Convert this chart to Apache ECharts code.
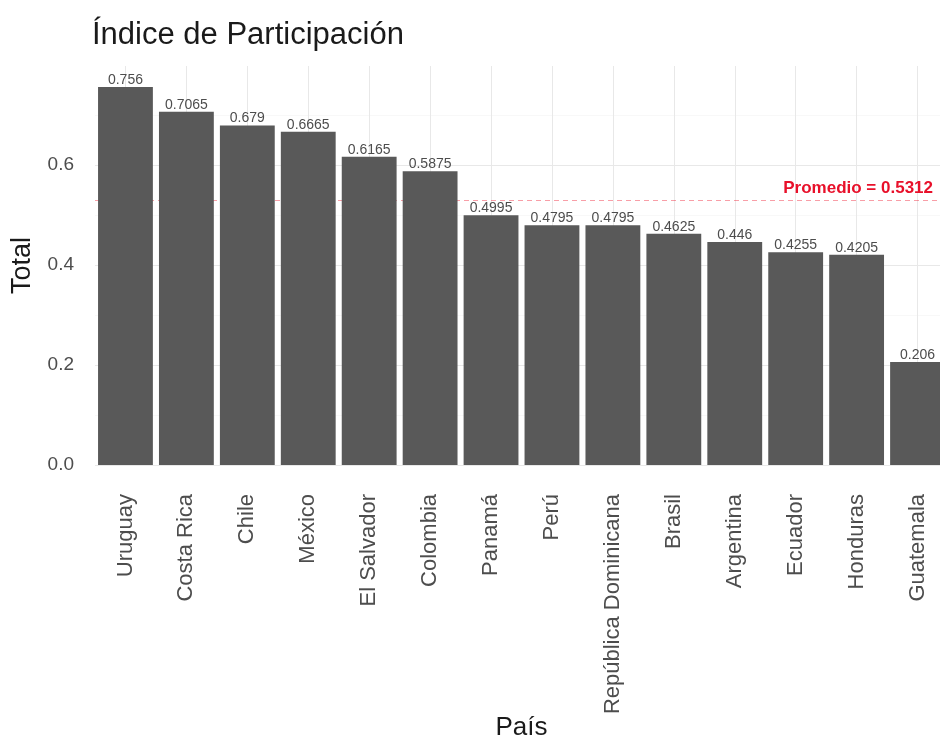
<!DOCTYPE html>
<html>
<head>
<meta charset="utf-8">
<script src="https://cdn.jsdelivr.net/npm/echarts@6/dist/echarts.min.js"></script>
<style>
  html, body { margin: 0; padding: 0; background: #fff; }
  #chart { width: 940px; height: 740px; }
</style>
</head>
<body>
<div id="chart"></div>
<script>
  // datos
  const paises = ['Uruguay', 'Costa Rica', 'Chile', 'México', 'El Salvador', 'Colombia', 'Panamá',
    'Perú', 'República Dominicana', 'Brasil', 'Argentina', 'Ecuador', 'Honduras', 'Guatemala']
  const totales = [0.756, 0.7065, 0.679, 0.6665, 0.6165, 0.5875, 0.4995,
    0.4795, 0.4795, 0.4625, 0.446, 0.4255, 0.4205, 0.206]
  const promedio = 0.5312
  const yTicks = [0, 0.2, 0.4, 0.6]

  const gris = '#4d4d4d'
  const fuente = 'Liberation Sans'

  let myChart = echarts.init(document.getElementById('chart'))
  myChart.setOption({
    animation: false,
    backgroundColor: '#fff',
    textStyle: { fontFamily: fuente },
    title: {
      text: 'Índice de Participación',
      left: 87,
      top: 15,
      textStyle: { fontFamily: fuente, fontSize: 31, fontWeight: 'normal', color: '#1a1a1a' }
    },
    grid: { left: 95, right: -8, top: 66, bottom: 275, outerBoundsMode: 'none', containLabel: false },
    xAxis: {
      type: 'category',
      data: paises,
      name: 'País',
      nameLocation: 'middle',
      nameGap: 250,
      nameMoveOverlap: false,
      nameTextStyle: { fontSize: 26, color: '#1a1a1a' },
      axisLine: { show: false },
      axisTick: { show: false },
      splitLine: { show: false },
      axisLabel: { rotate: 90, margin: 29, fontSize: 22, color: gris, interval: 0 }
    },
    yAxis: {
      type: 'value',
      min: yTicks[0],
      max: 0.798,
      interval: 0.2,
      name: 'Total',
      nameLocation: 'middle',
      nameGap: 59,
      nameMoveOverlap: false,
      nameTextStyle: { fontSize: 27, color: '#1a1a1a' },
      axisLine: { show: false },
      axisTick: { show: false },
      axisLabel: {
        margin: 21, fontSize: 19, color: gris, showMaxLabel: false,
        formatter: v => v.toFixed(1)
      },
      splitLine: { show: true, showMaxLine: false, lineStyle: { color: '#e8e8e8', width: 1 } },
      minorTick: { show: false, splitNumber: 2 },
      minorSplitLine: { show: true, lineStyle: { color: '#f3f3f3', width: 0.6 } }
    },
    series: [
      {
        // lineas verticales de la grilla
        type: 'line',
        data: [],
        z: 0,
        silent: true,
        markLine: {
          silent: true,
          z: 0,
          symbol: ['none', 'none'],
          label: { show: false },
          lineStyle: { color: '#e8e8e8', width: 1, type: 'solid' },
          data: paises.map(p => ({ xAxis: p }))
        }
      },
      {
        type: 'bar',
        data: totales,
        z: 10,
        barCategoryGap: '10%',
        itemStyle: { color: '#595959' },
        label: {
          show: true,
          position: 'top',
          distance: 0,
          fontSize: 14,
          color: '#4d4d4d',
          formatter: p => String(p.value)
        }
      },
      {
        // linea del promedio
        type: 'line',
        data: [],
        z: 12,
        silent: true,
        markLine: {
          silent: true,
          symbol: ['none', 'none'],
          lineStyle: { color: 'rgba(240, 40, 60, 0.45)', width: 1.2, type: [5, 4] },
          label: {
            show: true,
            position: 'insideEndTop',
            formatter: 'Promedio = ' + promedio,
            color: '#e8102a',
            fontSize: 17,
            fontWeight: 'bold',
            distance: [15, 3]
          },
          data: [{ yAxis: promedio }]
        }
      }
    ]
  })
</script>
</body>
</html>
